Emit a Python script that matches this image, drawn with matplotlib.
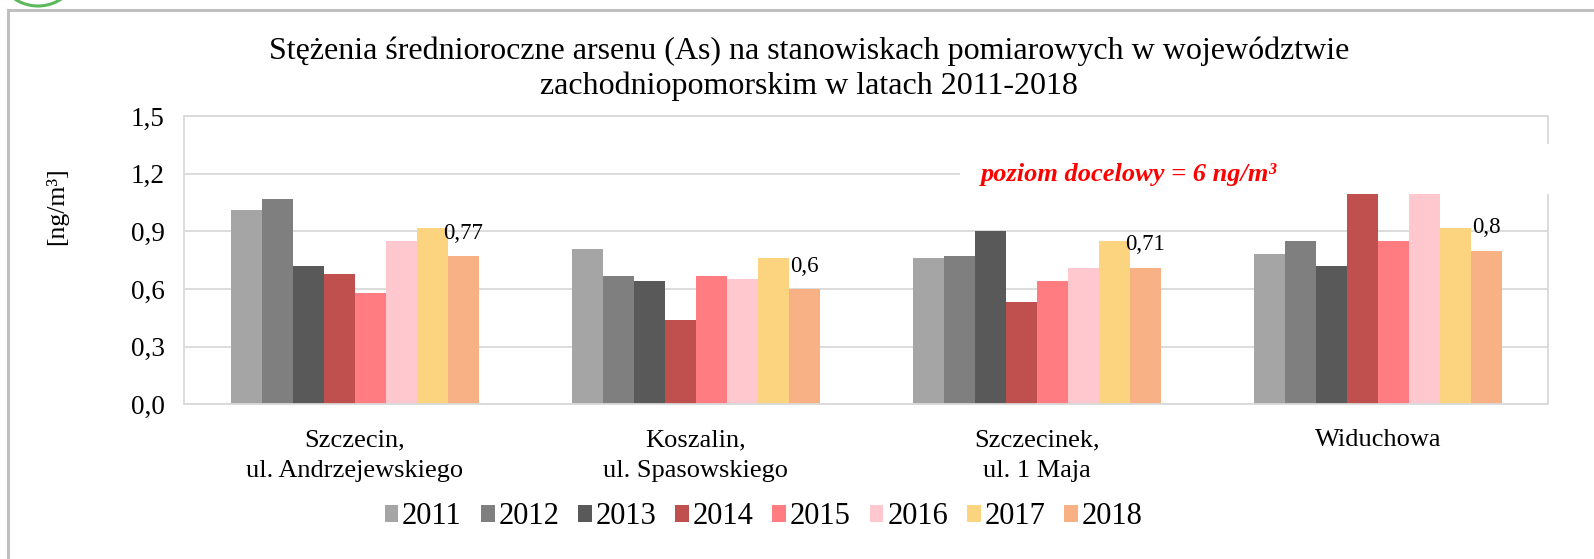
import numpy as np
import matplotlib
matplotlib.use("Agg")
import matplotlib.pyplot as plt
from matplotlib.patches import Rectangle, Circle
from matplotlib.lines import Line2D
from matplotlib.ticker import FuncFormatter
from matplotlib.transforms import blended_transform_factory


stations = [
    "Szczecin,\nul. Andrzejewskiego",
    "Koszalin,\nul. Spasowskiego",
    "Szczecinek,\nul. 1 Maja",
    "Widuchowa",
]
years = ["2011", "2012", "2013", "2014", "2015", "2016", "2017", "2018"]

# one list per station, values for 2011..2018 [ng/m3]
szczecin = [1.01, 1.07, 0.72, 0.68, 0.58, 0.85, 0.92, 0.77]
koszalin = [0.81, 0.67, 0.64, 0.44, 0.67, 0.65, 0.76, 0.60]
szczecinek = [0.76, 0.77, 0.90, 0.53, 0.64, 0.71, 0.85, 0.71]
widuchowa = [0.78, 0.85, 0.72, 1.26, 0.85, 1.22, 0.92, 0.80]

year_colors = [
    "#a5a5a5", "#7f7f7f", "#595959", "#c0504d",
    "#ff7c80", "#ffc7ce", "#fcd37f", "#f8b184",
]

plt.rcParams["font.family"] = ["Liberation Serif", "DejaVu Serif"]

data = np.array([szczecin, koszalin, szczecinek, widuchowa])

fig = plt.figure(figsize=(15.94, 5.59), dpi=100)
ax = fig.add_axes([0.1157, 0.2767, 0.8557, 0.5157])

x = np.arange(len(stations))
n = len(years)
bar_w = 0.727 / n

containers = []
for i, (year, color) in enumerate(zip(years, year_colors)):
    offs = (i - (n - 1) / 2) * bar_w
    bc = ax.bar(x + offs, data[:, i], width=bar_w, color=color,
                label=year, zorder=2)
    containers.append(bc)

ax.bar_label(
    containers[-1],
    labels=[f"{v:g}".replace(".", ",") for v in data[:, -1]],
    padding=9,
    fontsize=16.5,
    zorder=5,
)

ax.set_xlim(-0.5, len(stations) - 0.5)
ax.set_ylim(0, 1.5)
ax.set_yticks(np.arange(0, 1.51, 0.3))
ax.yaxis.set_major_formatter(
    FuncFormatter(lambda v, _: f"{v:.1f}".replace(".", ","))
)
ax.set_xticks(x)
ax.set_xticklabels(stations, fontsize=19, linespacing=1.5)
ax.tick_params(axis="y", labelsize=19.5, length=0, pad=14)
ax.tick_params(axis="x", length=0, pad=18)
ax.grid(axis="y", color="#d9d9d9", linewidth=1.3, zorder=0)
ax.set_axisbelow(True)
for sp in ax.spines.values():
    sp.set_color("#d9d9d9")
    sp.set_linewidth(1.3)

ax.set_ylabel("[ng/m³]", fontsize=18.5)
ax.yaxis.set_label_coords(-0.0854, 0.689)

fig.text(
    0.5075, 1 - 36 / 559,
    "Stężenia średnioroczne arsenu (As) na stanowiskach pomiarowych w województwie\n"
    "zachodniopomorskim w latach 2011-2018",
    ha="center", va="top", fontsize=23, linespacing=1.28,
)

# white box with the target level covering the top of the plot
xy_trans = blended_transform_factory(ax.transAxes, ax.transData)
ax.add_patch(Rectangle(
    (0.5686, 1.095), 0.5, 0.26, transform=xy_trans,
    facecolor="white", edgecolor="none", zorder=6, clip_on=False,
))
ax.text(
    0.584, 1.195, "poziom docelowy = 6 ng/m³", transform=xy_trans,
    color="#ff0000", fontsize=19, fontweight="bold", fontstyle="italic",
    va="center", ha="left", zorder=7,
)

fig.legend(
    loc="center",
    bbox_to_anchor=(0.479, 1 - 517 / 559),
    ncol=n,
    frameon=False,
    fontsize=22,
    handlelength=0.45,
    handleheight=0.45,
    handletextpad=0.12,
    columnspacing=0.62,
    borderaxespad=0,
)

# outer frame and logo fragment
fig.add_artist(Line2D([8 / 1594, 8 / 1594], [0, 1 - 10 / 559],
                      color="#bfbfbf", linewidth=2.2))
fig.add_artist(Line2D([8 / 1594, 1], [1 - 10 / 559, 1 - 10 / 559],
                      color="#bfbfbf", linewidth=2.2))
fig.add_artist(Circle((38, 559 + 36), 42, transform=None, fill=False,
                      edgecolor="#5cb85c", linewidth=2.2))

fig.savefig("out.png", dpi=100, facecolor="white")
